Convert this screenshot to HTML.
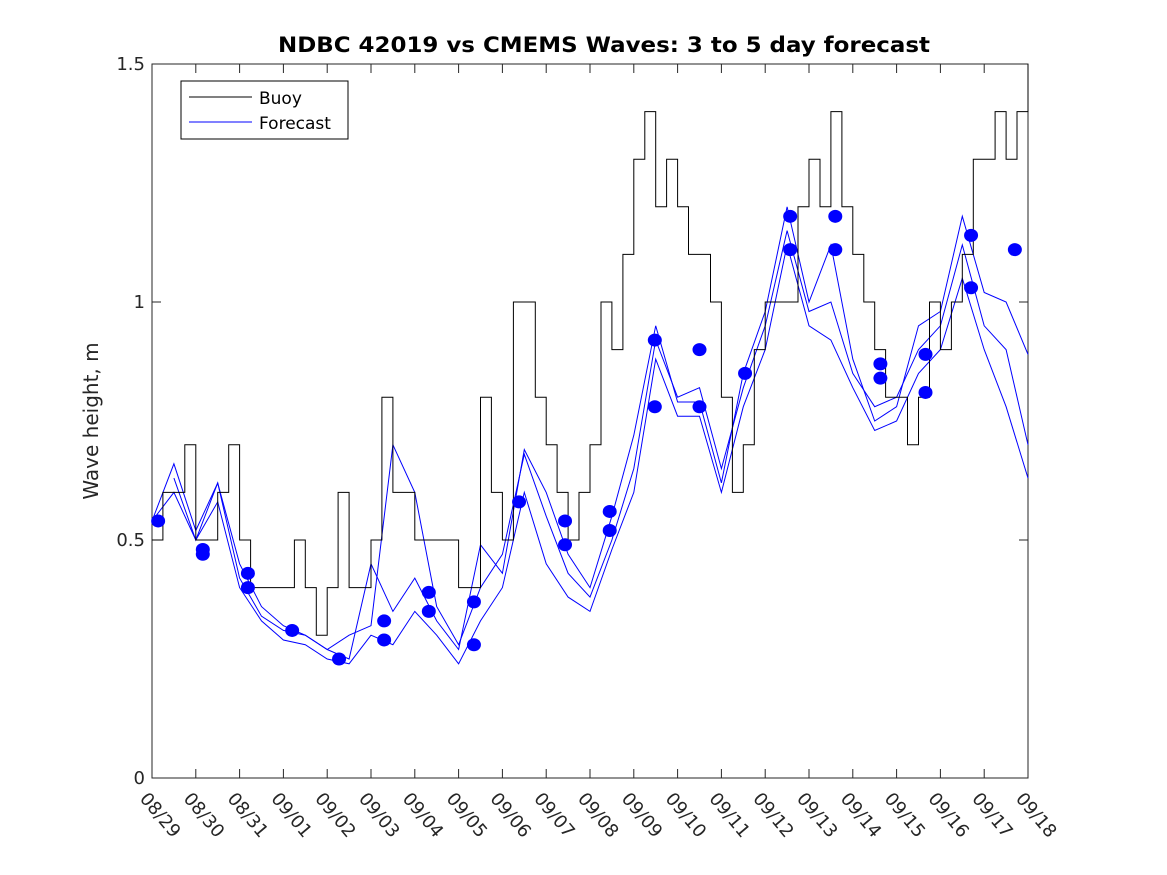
<!DOCTYPE html>
<html><head><meta charset="utf-8"><style>
body{margin:0;background:#fff;}
svg{display:block;font-family:"DejaVu Sans","Liberation Sans",sans-serif;}
</style></head><body>
<svg id="chart" width="1167" height="875">
<rect x="0" y="0" width="1167" height="875" fill="#fff"/>
<text x="278" y="52" textLength="652" lengthAdjust="spacingAndGlyphs" font-size="21" font-weight="bold">NDBC 42019 vs CMEMS Waves: 3 to 5 day forecast</text>
<g id="plot"></g>
<text transform="translate(98,421) rotate(-90)" text-anchor="middle" font-size="20" fill="#262626">Wave height, m</text>
<g>
<rect x="181" y="81" width="167" height="58" fill="#fff" stroke="#000" stroke-width="1"/>
<line x1="189" y1="97" x2="252" y2="97" stroke="#000" stroke-width="1"/>
<text x="259" y="104" font-size="17">Buoy</text>
<line x1="189" y1="122" x2="252" y2="122" stroke="#00f" stroke-width="1"/>
<text x="259" y="129" font-size="17">Forecast</text>
</g>
</svg>
<script>
const xTicks = ["08/29","08/30","08/31","09/01","09/02","09/03","09/04","09/05","09/06","09/07","09/08","09/09","09/10","09/11","09/12","09/13","09/14","09/15","09/16","09/17","09/18"];
const yTicks = [0, 0.5, 1, 1.5];
const buoy = [0.5,0.6,0.6,0.7, 0.5,0.5,0.6,0.7, 0.5,0.4,0.4,0.4, 0.4,0.5,0.4,0.3, 0.4,0.6,0.4,0.4, 0.5,0.8,0.6,0.6, 0.5,0.5,0.5,0.5, 0.4,0.4,0.8,0.6, 0.5,1.0,1.0,0.8, 0.7,0.6,0.5,0.6, 0.7,1.0,0.9,1.1, 1.3,1.4,1.2,1.3, 1.2,1.1,1.1,1.0, 0.8,0.6,0.7,0.9, 1.0,1.0,1.0,1.2, 1.3,1.2,1.4,1.2, 1.1,1.0,0.9,0.8, 0.8,0.7,0.8,1.0, 0.9,1.0,1.1,1.3, 1.3,1.4,1.3,1.4, 1.5];
const fcA = [0.54,0.66,0.52,0.62,0.45,0.36,0.32,0.30,0.27,0.25,0.45,0.35,0.42,0.33,0.27,0.49,0.43,0.69,0.60,0.47,0.40,0.55,0.72,0.95,0.79,0.79,0.62,0.85,0.98,1.20,1.00,1.12,0.88,0.75,0.78,0.95,0.98,1.18,1.02,1.00,0.89];
const fcB = [0.54,0.60,0.50,0.58,0.40,0.33,0.29,0.28,0.25,0.24,0.30,0.28,0.35,0.30,0.24,0.33,0.40,0.60,0.45,0.38,0.35,0.48,0.60,0.88,0.76,0.76,0.60,0.78,0.90,1.12,0.95,0.92,0.82,0.73,0.75,0.85,0.90,1.05,0.90,0.78,0.63];
const fcC = [null,0.63,0.50,0.62,0.42,0.34,0.31,0.30,0.27,0.30,0.32,0.70,0.60,0.36,0.28,0.40,0.47,0.68,0.55,0.43,0.38,0.50,0.65,0.92,0.80,0.82,0.65,0.82,0.95,1.15,0.98,1.00,0.85,0.78,0.80,0.90,0.95,1.12,0.95,0.90,0.70];
const dotDays = [0.14,1.16,1.16,2.19,2.19,3.2,4.27,5.3,5.3,6.32,6.32,7.35,7.35,8.38,9.43,9.43,10.45,10.45,11.48,11.48,12.5,12.5,13.54,14.57,14.57,15.6,15.6,16.63,16.63,17.66,17.66,18.7,18.7,19.7];
const dotVals = [0.54,0.48,0.47,0.43,0.40,0.31,0.25,0.33,0.29,0.39,0.35,0.37,0.28,0.58,0.54,0.49,0.56,0.52,0.92,0.78,0.90,0.78,0.85,1.18,1.11,1.18,1.11,0.87,0.84,0.89,0.81,1.14,1.03,1.11];

const L=152,R=1028,T=64,B=778;
const xs = d => L + (R-L)*d/20;
const ys = v => B - (B-T)*v/1.5;
const NS="http://www.w3.org/2000/svg";
const g=document.getElementById('plot');
function mk(tag,attrs){const e=document.createElementNS(NS,tag);for(const k in attrs)e.setAttribute(k,attrs[k]);g.appendChild(e);return e;}

const box=mk('rect',{x:L,y:T,width:R-L,height:B-T,fill:'none',stroke:'#262626','stroke-width':1});



xTicks.forEach((t,i)=>{
  const x=xs(i);
  mk('line',{x1:x,y1:B,x2:x,y2:B-9,stroke:'#262626'});
  mk('line',{x1:x,y1:T,x2:x,y2:T+9,stroke:'#262626'});
  const tx=mk('text',{x:x-13,y:B+21,'font-size':18,transform:`rotate(50 ${x-13} ${B+21})`,fill:'#262626'});
  tx.textContent=t;
  
  
});
yTicks.forEach(v=>{
  const y=ys(v);
  mk('line',{x1:L,y1:y,x2:L+9,y2:y,stroke:'#262626'});
  mk('line',{x1:R,y1:y,x2:R-9,y2:y,stroke:'#262626'});
  const tx=mk('text',{x:L-7,y:y+6,'font-size':18,'text-anchor':'end',fill:'#262626'});
  tx.textContent=String(v);
  
  
});

[fcA,fcB,fcC].forEach((s,si)=>{
  let d='',pen=false;
  s.forEach((v,i)=>{
    if(v===null){pen=false;return;}
    d+=(pen?'L':'M')+xs(i*0.5).toFixed(1)+','+ys(v).toFixed(1);
    pen=true;
  });
  const p=mk('path',{d:d,fill:'none',stroke:'#00f','stroke-width':1});
  
  
});

let bd='';
buoy.forEach((v,i)=>{
  const x0=xs(i*0.25),x1=xs(Math.min((i+1)*0.25,20));
  bd+=(i===0?'M':'L')+x0.toFixed(1)+','+ys(v).toFixed(1)+'L'+x1.toFixed(1)+','+ys(v).toFixed(1);
});
const bp=mk('path',{d:bd,fill:'none',stroke:'#000','stroke-width':1});



dotDays.forEach((d,i)=>{
  const c=mk('ellipse',{cx:xs(d),cy:ys(dotVals[i]),rx:7,ry:6.5,fill:'#00f'});
  
  
});
</script>
</body></html>
